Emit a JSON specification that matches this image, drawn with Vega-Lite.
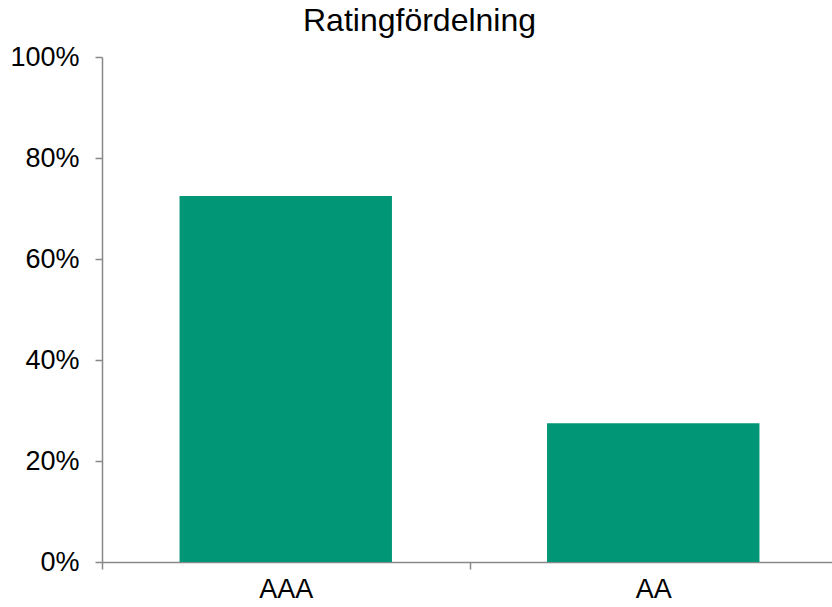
{
  "$schema": "https://vega.github.io/schema/vega-lite/v6.json",
  "autosize": "none",
  "width": 735,
  "height": 505,
  "padding": {"left": 102, "top": 57, "right": 0, "bottom": 45},
  "background": "white",
  "title": {
    "text": "Ratingfördelning",
    "font": "Liberation Sans",
    "fontSize": 32,
    "fontWeight": "normal",
    "color": "black",
    "anchor": "middle",
    "frame": "group",
    "baseline": "alphabetic",
    "offset": -20,
    "dx": -50
  },
  "data": {
    "values": [
      {"rating": "AAA", "share": 0.725},
      {"rating": "AA", "share": 0.275}
    ]
  },
  "mark": {"type": "bar", "color": "#009676", "width": {"band": 0.578}},
  "encoding": {
    "x": {
      "field": "rating",
      "type": "nominal",
      "sort": null,
      "scale": {"paddingInner": 0, "paddingOuter": 0},
      "axis": {
        "title": null,
        "labelAngle": 0,
        "labelFont": "Liberation Sans",
        "labelFontSize": 27,
        "labelColor": "black",
        "labelPadding": 7,
        "tickBand": "extent",
        "tickSize": 7,
        "tickColor": "#888888",
        "domainColor": "#888888",
        "domainWidth": 1.5,
        "tickWidth": 1.5
      }
    },
    "y": {
      "field": "share",
      "type": "quantitative",
      "scale": {"domain": [0, 1]},
      "axis": {
        "title": null,
        "values": [0, 0.2, 0.4, 0.6, 0.8, 1],
        "format": ".0%",
        "grid": false,
        "labelFont": "Liberation Sans",
        "labelFontSize": 27,
        "labelColor": "black",
        "labelPadding": 16,
        "tickSize": 7,
        "tickColor": "#888888",
        "domainColor": "#888888",
        "domainWidth": 1.5,
        "tickWidth": 1.5
      }
    }
  },
  "config": {"view": {"stroke": null}}
}
